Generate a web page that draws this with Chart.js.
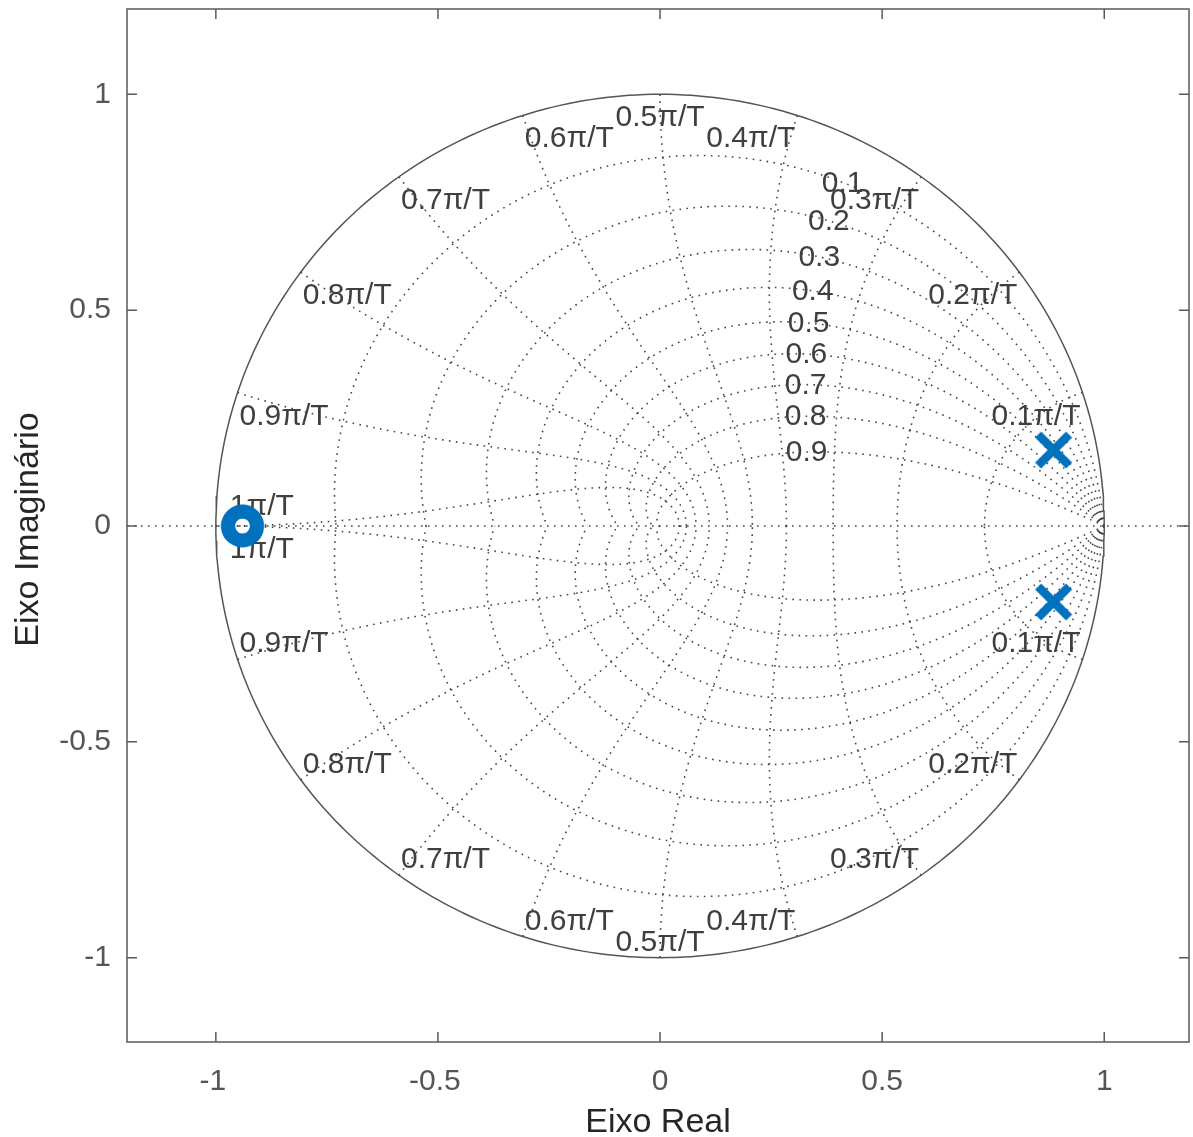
<!DOCTYPE html>
<html>
<head>
<meta charset="utf-8">
<script src="https://cdn.jsdelivr.net/npm/chart.js@4.4.1/dist/chart.umd.min.js"></script>
<style>
html, body { margin: 0; padding: 0; background: #fff; overflow: hidden; }
canvas { display: block; }
</style>
</head>
<body>
<canvas id="pzChart" width="1193" height="1137"></canvas>
<script>
// Eixos
const realTicks = [-1, -0.5, 0, 0.5, 1];
const imagTicks = [-1, -0.5, 0, 0.5, 1];
const realRange = [-1.2, 1.1908];
const imagRange = [-1.1953, 1.1976];

// zgrid: coeficientes de amortecimento e frequencias naturais (x pi/T)
const dampingRatios = [0.1, 0.2, 0.3, 0.4, 0.5, 0.6, 0.7, 0.8, 0.9];
const naturalFreqs = [0.1, 0.2, 0.3, 0.4, 0.5, 0.6, 0.7, 0.8, 0.9, 1.0];
const freqLabels = ['0.1π/T', '0.2π/T', '0.3π/T', '0.4π/T', '0.5π/T',
                    '0.6π/T', '0.7π/T', '0.8π/T', '0.9π/T', '1π/T'];
const dampingLabelFreq = 0.35; // onde ficam os rotulos de zeta

// Polos e zeros
const poleRe = [0.886, 0.886];
const poleIm = [0.176, -0.176];
const zeroRe = [-0.931, -0.9322, -0.9355, -0.94, -0.9445, -0.9478,
                -0.949, -0.9478, -0.9445, -0.94, -0.9355, -0.9322];
const zeroIm = [0, 0.0045, 0.0078, 0.009, 0.0078, 0.0045,
                0, -0.0045, -0.0078, -0.009, -0.0078, -0.0045];

const gridColor = 'rgba(50,50,50,0.9)';
const markerColor = '#0072BD';
const FONT = '"Liberation Sans", Arial, Helvetica, sans-serif';

// marcadores desenhados em canvas (x e o do pzmap)
function makeCross() {
    const c = document.createElement('canvas');
    c.width = 44; c.height = 44;
    const g = c.getContext('2d');
    g.strokeStyle = markerColor;
    g.lineWidth = 8.5;
    g.beginPath();
    g.moveTo(22 - 15.5, 22 - 15.5); g.lineTo(22 + 15.5, 22 + 15.5);
    g.moveTo(22 + 15.5, 22 - 15.5); g.lineTo(22 - 15.5, 22 + 15.5);
    g.stroke();
    return c;
}
function makeRing() {
    const c = document.createElement('canvas');
    c.width = 40; c.height = 40;
    const g = c.getContext('2d');
    g.strokeStyle = markerColor;
    g.lineWidth = 6;
    g.beginPath();
    g.arc(20, 20, 14.5, 0, 2 * Math.PI);
    g.stroke();
    return c;
}

function dampingCurve(zeta, sign) {
    const m = zeta / Math.sqrt(1 - zeta * zeta);
    const pts = [];
    for (let i = 0; i <= 300; i++) {
        const phi = Math.PI * i / 300;
        const r = Math.exp(-m * phi);
        pts.push({ x: r * Math.cos(phi), y: sign * r * Math.sin(phi) });
    }
    return pts;
}

function freqCurve(wn, sign) {
    const theta = wn * Math.PI;
    const pts = [];
    for (let i = 0; i <= 200; i++) {
        const t = (Math.PI / 2) * i / 200;
        const zeta = Math.sin(t);
        const r = Math.exp(-zeta * theta);
        const phi = theta * Math.cos(t);
        pts.push({ x: r * Math.cos(phi), y: sign * r * Math.sin(phi) });
    }
    return pts;
}

function gridSet(pts) {
    return {
        data: pts, showLine: true, pointRadius: 0, borderColor: gridColor,
        borderWidth: 1.6, borderDash: [1.6, 5.4], fill: false, order: 3
    };
}

const datasets = [];
// polos
datasets.push({
    data: poleRe.map((x, i) => ({ x: x, y: poleIm[i] })),
    pointStyle: makeCross(), pointRadius: 1, borderWidth: 0, showLine: false, order: 0
});
// zeros
datasets.push({
    data: zeroRe.map((x, i) => ({ x: x, y: zeroIm[i] })),
    pointStyle: makeRing(), pointRadius: 1, borderWidth: 0, showLine: false, order: 0
});
// circulo unitario
const unitCircleIndex = datasets.length;
const circlePts = [];
for (let i = 0; i <= 360; i++) {
    const a = 2 * Math.PI * i / 360;
    circlePts.push({ x: Math.cos(a), y: Math.sin(a) });
}
datasets.push({
    data: circlePts, showLine: true, pointRadius: 0, borderColor: '#555',
    borderWidth: 1.5, fill: false, order: 1
});
// eixo real pontilhado
datasets.push(gridSet([{ x: realRange[0], y: 0 }, { x: realRange[1], y: 0 }]));
dampingRatios.forEach(z => {
    datasets.push(gridSet(dampingCurve(z, 1)));
    datasets.push(gridSet(dampingCurve(z, -1)));
});
naturalFreqs.forEach(w => {
    datasets.push(gridSet(freqCurve(w, 1)));
    datasets.push(gridSet(freqCurve(w, -1)));
});

const zgridPlugin = {
    id: 'zgrid',
    afterDatasetDraw(chart, args) {
        if (args.index !== unitCircleIndex) return;
        const ctx = chart.ctx;
        const xs = chart.scales.x, ys = chart.scales.y;
        ctx.save();
        ctx.fillStyle = '#3f3f3f';
        ctx.font = '30px ' + FONT;

        // rotulos de frequencia natural
        naturalFreqs.forEach((w, i) => {
            const phi = w * Math.PI;
            const ax = xs.getPixelForValue(Math.cos(phi));
            const ayUp = ys.getPixelForValue(Math.sin(phi));
            const ayDn = ys.getPixelForValue(-Math.sin(phi));
            let px;
            if (w < 0.5) { ctx.textAlign = 'right'; px = ax - 2; }
            else if (w > 0.5) { ctx.textAlign = 'left'; px = ax + 2; }
            else { ctx.textAlign = 'center'; px = ax; }
            ctx.textBaseline = 'alphabetic';
            if (w === 1.0) {
                ctx.fillText(freqLabels[i], ax + 14, ayUp - 11);
                ctx.fillText(freqLabels[i], ax + 14, ayDn + 32);
            } else {
                ctx.fillText(freqLabels[i], px, ayUp + 32);
                ctx.fillText(freqLabels[i], px, ayDn - 7);
            }
        });

        // rotulos de amortecimento
        ctx.textAlign = 'center';
        ctx.textBaseline = 'middle';
        dampingRatios.forEach(z => {
            const phi = dampingLabelFreq * Math.PI * Math.sqrt(1 - z * z);
            const r = Math.exp(-z * dampingLabelFreq * Math.PI);
            const px = xs.getPixelForValue(r * Math.cos(phi));
            const py = ys.getPixelForValue(r * Math.sin(phi));
            ctx.fillText(String(z), px, py + 1);
        });
        ctx.restore();
    },
    afterDraw(chart) {
        const ctx = chart.ctx;
        const a = chart.chartArea;
        const xs = chart.scales.x, ys = chart.scales.y;
        ctx.save();
        ctx.strokeStyle = '#5a5a5a';
        ctx.lineWidth = 1.5;
        ctx.strokeRect(a.left, a.top, a.right - a.left, a.bottom - a.top);

        ctx.beginPath();
        realTicks.forEach(t => {
            const px = xs.getPixelForValue(t);
            ctx.moveTo(px, a.bottom); ctx.lineTo(px, a.bottom - 10);
            ctx.moveTo(px, a.top); ctx.lineTo(px, a.top + 10);
        });
        imagTicks.forEach(t => {
            const py = ys.getPixelForValue(t);
            ctx.moveTo(a.left, py); ctx.lineTo(a.left + 10, py);
            ctx.moveTo(a.right, py); ctx.lineTo(a.right - 10, py);
        });
        ctx.stroke();

        ctx.fillStyle = '#555';
        ctx.font = '30px ' + FONT;
        ctx.textAlign = 'center';
        ctx.textBaseline = 'alphabetic';
        realTicks.forEach(t => {
            ctx.fillText(String(t), xs.getPixelForValue(t) - (t < 0 ? 3 : 0), a.bottom + 48);
        });
        ctx.textAlign = 'right';
        ctx.textBaseline = 'middle';
        imagTicks.forEach(t => {
            ctx.fillText(String(t), a.left - 16, ys.getPixelForValue(t));
        });

        ctx.fillStyle = '#262626';
        ctx.font = '34px ' + FONT;
        ctx.textAlign = 'center';
        ctx.textBaseline = 'alphabetic';
        ctx.fillText('Eixo Real', (a.left + a.right) / 2 + 0, a.bottom + 90);
        ctx.translate(38, (a.top + a.bottom) / 2 + 4);
        ctx.rotate(-Math.PI / 2);
        ctx.fillText('Eixo Imaginário', 0, 0);
        ctx.restore();
    }
};

new Chart(document.getElementById('pzChart').getContext('2d'), {
    type: 'scatter',
    data: { datasets: datasets },
    options: {
        responsive: false,
        animation: false,
        devicePixelRatio: 1,
        layout: { padding: { left: 127, right: 2, top: 9, bottom: 95 } },
        plugins: { legend: { display: false }, tooltip: { enabled: false } },
        scales: {
            x: { type: 'linear', min: realRange[0], max: realRange[1], display: false },
            y: { type: 'linear', min: imagRange[0], max: imagRange[1], display: false }
        }
    },
    plugins: [zgridPlugin]
});
</script>
</body>
</html>
